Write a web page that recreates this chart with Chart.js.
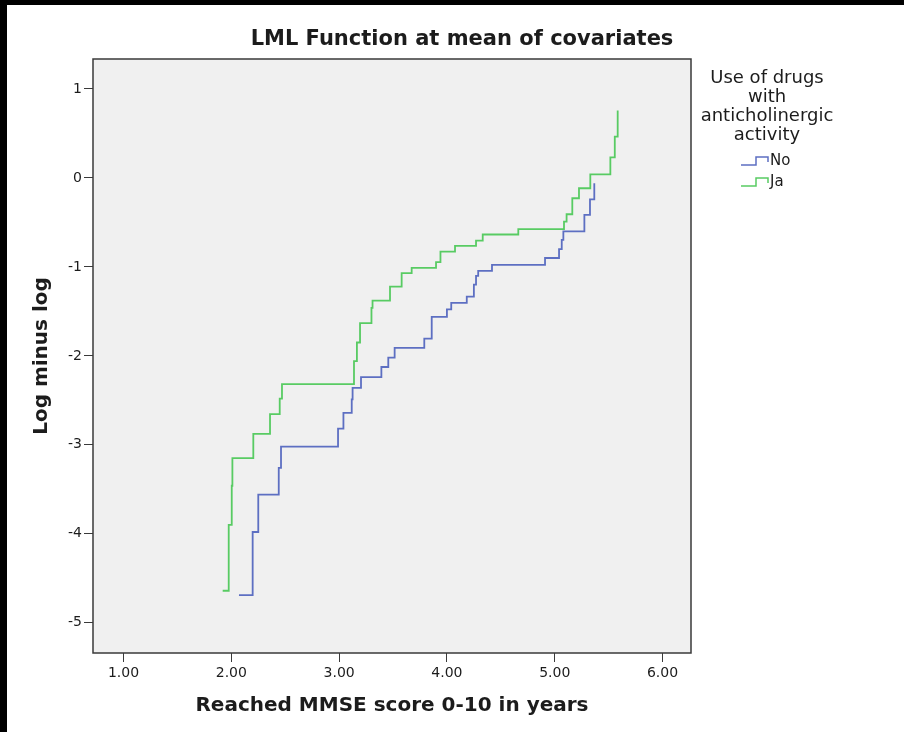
<!DOCTYPE html>
<html>
<head>
<meta charset="utf-8">
<title>LML Function at mean of covariates</title>
<script src="https://cdn.jsdelivr.net/npm/chart.js@4.4.1/dist/chart.umd.min.js"></script>
<style>
html, body { margin: 0; padding: 0; background: #fff; }
#wrap { position: relative; width: 904px; height: 732px; overflow: hidden; }
#wrap canvas { position: absolute; left: 0; top: 0; }
#frame {
	position: absolute; left: 0; top: 0; width: 904px; height: 732px;
	box-sizing: border-box; border-top: 5px solid #000; border-left: 7px solid #000;
	pointer-events: none;
}
</style>
</head>
<body>
<div id="wrap">
	<canvas id="lml-chart" width="904" height="732"></canvas>
	<div id="frame"></div>
</div>
<script>
// Step points: at each x the curve jumps to the new y.
const noX = [ 2.071, 2.198, 2.25, 2.44, 2.461, 2.99, 3.04, 3.117, 3.125, 3.203, 3.392, 3.456, 3.515, 3.79, 3.859, 4.0, 4.04, 4.184, 4.25, 4.27, 4.29, 4.418, 4.91, 5.04, 5.065, 5.08, 5.275, 5.327, 5.367 ];
const noY = [ -4.69, -3.98, -3.56, -3.26, -3.02, -2.817, -2.64, -2.49, -2.36, -2.24, -2.125, -2.02, -1.91, -1.807, -1.562, -1.478, -1.404, -1.333, -1.2, -1.1, -1.045, -0.978, -0.9, -0.8, -0.697, -0.6, -0.416, -0.24, -0.06 ];

const jaX = [ 1.92, 1.976, 2.004, 2.01, 2.204, 2.359, 2.449, 2.47, 3.138, 3.165, 3.194, 3.30, 3.31, 3.472, 3.58, 3.673, 3.899, 3.94, 4.075, 4.27, 4.332, 4.662, 5.086, 5.11, 5.163, 5.225, 5.33, 5.516, 5.557, 5.584 ];
const jaY = [ -4.64, -3.90, -3.46, -3.15, -2.876, -2.655, -2.48, -2.318, -2.06, -1.85, -1.633, -1.46, -1.38, -1.221, -1.071, -1.01, -0.946, -0.828, -0.764, -0.704, -0.636, -0.575, -0.49, -0.408, -0.228, -0.116, 0.041, 0.232, 0.464, 0.757 ];

const xTicks = [ 1, 2, 3, 4, 5, 6 ];
const yTicks = [ -5, -4, -3, -2, -1, 0, 1 ];
const seriesLabels = [ 'No', 'Ja' ];
const chartTitle = 'LML Function at mean of covariates';
const legendTitle = [ 'Use of drugs', 'with', 'anticholinergic', 'activity' ];

const FONT = '"DejaVu Sans", sans-serif';
const INK = '#1c1c1c';
const AXIS = '#3a3a3a';

const toPoints = ( xs, ys ) => xs.map( ( x, i ) => ( { x: x, y: ys[ i ] } ) );

// Grey plot area, its frame, and the page title (centred on the page, not the plot).
const plotFrame = {
	id: 'plotFrame',
	beforeDatasetsDraw( chart ) {
		const { ctx, chartArea: a } = chart;
		ctx.save();
		ctx.fillStyle = '#f0f0f0';
		ctx.fillRect( a.left, a.top, a.right - a.left, a.bottom - a.top );
		ctx.restore();
	},
	afterDatasetsDraw( chart ) {
		const { ctx, chartArea: a } = chart;
		ctx.save();
		ctx.strokeStyle = AXIS;
		ctx.lineWidth = 1.5;
		ctx.strokeRect( a.left, a.top, a.right - a.left, a.bottom - a.top );
		ctx.fillStyle = INK;
		ctx.font = 'bold 21px ' + FONT;
		ctx.textAlign = 'center';
		ctx.textBaseline = 'middle';
		ctx.fillText( chartTitle, 462, 40 );
		ctx.restore();
	},
};

// Legend with a title block and little step icons.
const stepLegend = {
	id: 'stepLegend',
	afterDraw( chart ) {
		const ctx = chart.ctx;
		ctx.save();
		ctx.fillStyle = INK;
		ctx.font = '18px ' + FONT;
		ctx.textAlign = 'center';
		ctx.textBaseline = 'middle';
		legendTitle.forEach( ( line, i ) => {
			ctx.fillText( line, 767, 78 + i * 19 );
		} );
		ctx.font = '15px ' + FONT;
		ctx.textAlign = 'left';
		chart.data.datasets.forEach( ( ds, i ) => {
			const y = 161 + i * 21;
			ctx.strokeStyle = ds.borderColor;
			ctx.lineWidth = 1.5;
			ctx.beginPath();
			ctx.moveTo( 741, y + 4 );
			ctx.lineTo( 756, y + 4 );
			ctx.lineTo( 756, y - 4 );
			ctx.lineTo( 768, y - 4 );
			ctx.lineTo( 768, y + 1 );
			ctx.stroke();
			ctx.fillText( ds.label, 770, y );
		} );
		ctx.restore();
	},
};

new Chart( document.getElementById( 'lml-chart' ), {
	type: 'line',
	data: {
		datasets: [
			{
				label: seriesLabels[ 0 ],
				data: toPoints( noX, noY ),
				borderColor: '#5d6fc2',
				borderWidth: 1.8,
			},
			{
				label: seriesLabels[ 1 ],
				data: toPoints( jaX, jaY ),
				borderColor: '#58cb63',
				borderWidth: 1.8,
			},
		],
	},
	options: {
		responsive: false,
		animation: false,
		devicePixelRatio: 1,
		datasets: {
			line: {
				stepped: true,
				pointRadius: 0,
				fill: false,
			},
		},
		layout: {
			padding: { top: 59, left: 10, right: 213, bottom: 0 },
		},
		plugins: {
			legend: { display: false },
			tooltip: { enabled: false },
			title: { display: false },
		},
		scales: {
			x: {
				type: 'linear',
				min: 0.717,
				max: 6.264,
				afterFit: ( scale ) => { scale.height = 79; },
				afterBuildTicks: ( scale ) => { scale.ticks = xTicks.map( ( v ) => ( { value: v } ) ); },
				ticks: {
					color: INK,
					font: { family: FONT, size: 14 },
					padding: 3,
					maxRotation: 0,
					callback: ( v ) => Number( v ).toFixed( 2 ),
				},
				grid: { drawOnChartArea: false, tickLength: 9, color: AXIS, tickWidth: 1 },
				border: { display: false },
				title: {
					display: true,
					text: 'Reached MMSE score 0-10 in years',
					color: INK,
					font: { family: FONT, size: 20, weight: 'bold', lineHeight: 1.2 },
					padding: { top: 0, bottom: 14 },
				},
			},
			y: {
				type: 'linear',
				min: -5.34,
				max: 1.337,
				afterFit: ( scale ) => { scale.width = 83; },
				afterBuildTicks: ( scale ) => { scale.ticks = yTicks.map( ( v ) => ( { value: v } ) ); },
				ticks: {
					color: INK,
					font: { family: FONT, size: 14 },
					padding: 2,
				},
				grid: { drawOnChartArea: false, tickLength: 9, color: AXIS, tickWidth: 1 },
				border: { display: false },
				title: {
					display: true,
					text: 'Log minus log',
					color: INK,
					font: { family: FONT, size: 20, weight: 'bold', lineHeight: 1.2 },
					padding: { top: 20, bottom: 0 },
				},
			},
		},
	},
	plugins: [ plotFrame, stepLegend ],
} );
</script>
</body>
</html>
